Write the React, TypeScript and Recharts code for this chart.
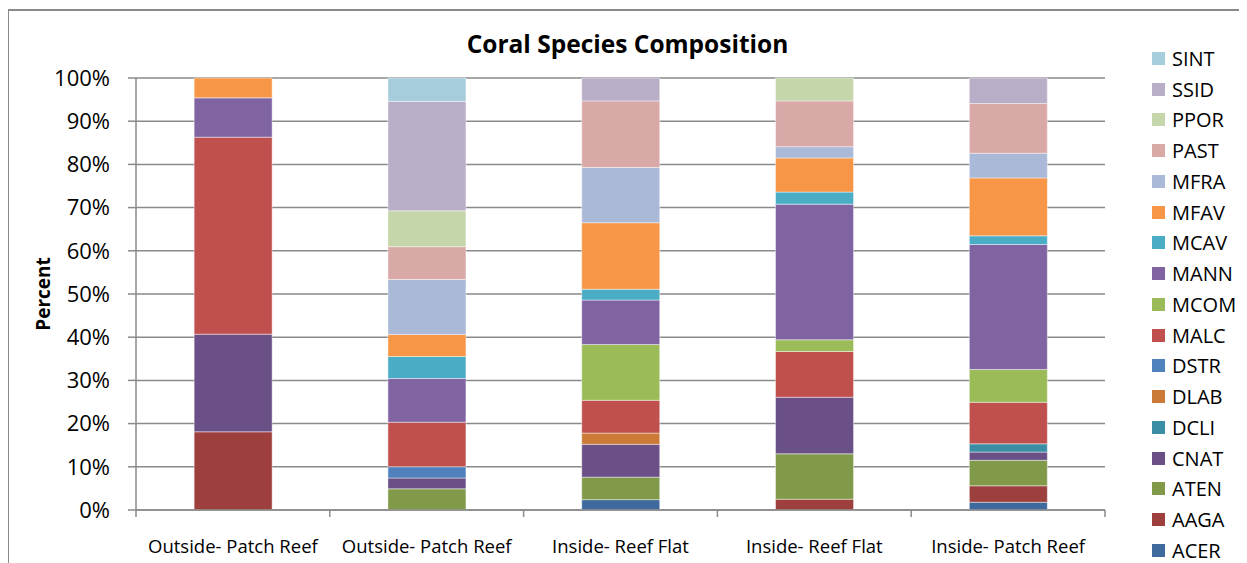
import React from 'react';
import { BarChart, Bar, XAxis, YAxis, CartesianGrid } from 'recharts';

// sites along the x axis
const sites = ['Outside- Patch Reef', 'Outside- Patch Reef', 'Inside- Reef Flat', 'Inside- Reef Flat', 'Inside- Patch Reef'];

// percent of corals per species, one value per site
const ACER = [0, 0, 2.4, 0, 1.8];
const AAGA = [18.1, 0, 0, 2.5, 3.8];
const ATEN = [0, 4.9, 5.2, 10.5, 5.9];
const CNAT = [22.6, 2.5, 7.6, 13.1, 1.9];
const DCLI = [0, 0, 0, 0, 1.9];
const DLAB = [0, 0, 2.6, 0, 0];
const DSTR = [0, 2.6, 0, 0, 0];
const MALC = [45.6, 10.3, 7.6, 10.6, 9.6];
const MCOM = [0, 0, 12.9, 2.7, 7.6];
const MANN = [9.1, 10.1, 10.3, 31.4, 28.9];
const MCAV = [0, 5.1, 2.5, 2.8, 2.0];
const MFAV = [4.6, 5.1, 15.4, 7.9, 13.4];
const MFRA = [0, 12.7, 12.8, 2.6, 5.7];
const PAST = [0, 7.6, 15.4, 10.6, 11.5];
const PPOR = [0, 8.3, 0, 5.3, 0];
const SSID = [0, 25.3, 5.3, 0, 5.9];
const SINT = [0, 5.4, 0, 0, 0];

const yTicks = [0, 0.1, 0.2, 0.3, 0.4, 0.5, 0.6, 0.7, 0.8, 0.9, 1];

// stacking order, bottom to top
const species: { key: string; values: number[]; color: string }[] = [
    { key: 'ACER', values: ACER, color: '#3F6A9D' },
    { key: 'AAGA', values: AAGA, color: '#9C3F3D' },
    { key: 'ATEN', values: ATEN, color: '#809A4A' },
    { key: 'CNAT', values: CNAT, color: '#6A5086' },
    { key: 'DCLI', values: DCLI, color: '#3A8DA4' },
    { key: 'DLAB', values: DLAB, color: '#CC7A38' },
    { key: 'DSTR', values: DSTR, color: '#4F81BD' },
    { key: 'MALC', values: MALC, color: '#C0504D' },
    { key: 'MCOM', values: MCOM, color: '#9BBB59' },
    { key: 'MANN', values: MANN, color: '#8064A2' },
    { key: 'MCAV', values: MCAV, color: '#4BACC6' },
    { key: 'MFAV', values: MFAV, color: '#F79646' },
    { key: 'MFRA', values: MFRA, color: '#AAB9D7' },
    { key: 'PAST', values: PAST, color: '#D9A9A8' },
    { key: 'PPOR', values: PPOR, color: '#C6D6AB' },
    { key: 'SSID', values: SSID, color: '#B9AEC8' },
    { key: 'SINT', values: SINT, color: '#A6CDDB' },
];

const data = sites.map((site, i) => {
    const row: { [key: string]: number | string } = { site };
    species.forEach(s => { row[s.key] = s.values[i]; });
    return row;
});

const AXIS = '#8a8a8a';
const FONT = '"Open Sans", sans-serif';

// category label plus the tick marks that sit between categories
const SiteTick = (props: any) => {
    const { x, y, payload, index, width, visibleTicksCount } = props;
    const count = visibleTicksCount || sites.length;
    const half = payload?.offset || (width ? width / (count * 2) : 97);
    return (
        <g>
            <line x1={x - half} x2={x - half} y1={y} y2={y + 7} stroke={AXIS} strokeWidth={1.5} />
            {index === count - 1 && (
                <line x1={x + half} x2={x + half} y1={y} y2={y + 7} stroke={AXIS} strokeWidth={1.5} />
            )}
            <text x={x} y={y + 43} textAnchor="middle" fontSize={18.5} fill="#000" fontFamily={FONT}>
                {payload.value}
            </text>
        </g>
    );
};

const PercentLabel = (props: any) => {
    const vb = props.viewBox || { x: 0, y: 70, width: 128, height: 432 };
    const cx = vb.x + 35;
    const cy = vb.y + vb.height / 2;
    return (
        <text x={cx} y={cy} transform={`rotate(-90 ${cx} ${cy})`} textAnchor="middle" dominantBaseline="central"
            fontSize={19} fontWeight={700} fill="#000" fontFamily={FONT}>
            Percent
        </text>
    );
};

const App: React.FC = () => {
    return (
        <div style={{ position: 'relative', width: 1239, height: 555, fontFamily: FONT }}>
            <div style={{ position: 'absolute', left: -1, top: 1, right: 0, bottom: 0, borderTop: `2px solid ${AXIS}`, borderLeft: `2px solid ${AXIS}`, pointerEvents: 'none' }} />
            <div style={{ position: 'absolute', left: 0, width: 1239, top: 19, textAlign: 'center', fontSize: 24.5, lineHeight: '34px', fontWeight: 700, color: '#000' }}>
                Coral Species Composition
            </div>
            <BarChart
                width={1239}
                height={555}
                data={data}
                stackOffset="expand"
                barCategoryGap="30%"
                margin={{ top: 70, right: 142, bottom: 0, left: 0 }}
                style={{ fontFamily: FONT }}
            >
                <CartesianGrid horizontal vertical={false} stroke={AXIS} strokeWidth={1.5} />
                <XAxis
                    dataKey="site"
                    height={53}
                    tickSize={0}
                    tickMargin={0}
                    tickLine={false}
                    axisLine={{ stroke: AXIS, strokeWidth: 1.5 }}
                    tick={<SiteTick />}
                    interval={0}
                />
                <YAxis
                    width={128}
                    domain={[0, 1]}
                    ticks={yTicks}
                    tickFormatter={(v: number) => `${Math.round(v * 100)}%`}
                    tickSize={8}
                    tickMargin={18}
                    tickLine={{ stroke: AXIS, strokeWidth: 1.5 }}
                    axisLine={{ stroke: AXIS, strokeWidth: 1.5 }}
                    tick={{ fontSize: 22, fill: '#000', fontFamily: FONT }}
                    label={<PercentLabel />}
                />
                {species.map(s => (
                    <Bar
                        key={s.key}
                        dataKey={s.key}
                        stackId="a"
                        fill={s.color}
                        stroke="#ffffff"
                        strokeOpacity={0.55}
                        strokeWidth={0.8}
                        isAnimationActive={false}
                    />
                ))}
            </BarChart>
            <div style={{ position: 'absolute', left: 1144, top: 35 }}>
                {[...species].reverse().map(s => (
                    <div key={s.key} style={{ display: 'flex', alignItems: 'center', height: 30.75 }}>
                        <span style={{ display: 'inline-block', width: 13, height: 13, background: s.color, marginRight: 7 }} />
                        <span style={{ fontSize: 20, color: '#000', lineHeight: '17px' }}>{s.key}</span>
                    </div>
                ))}
            </div>
        </div>
    );
};

export default App;
